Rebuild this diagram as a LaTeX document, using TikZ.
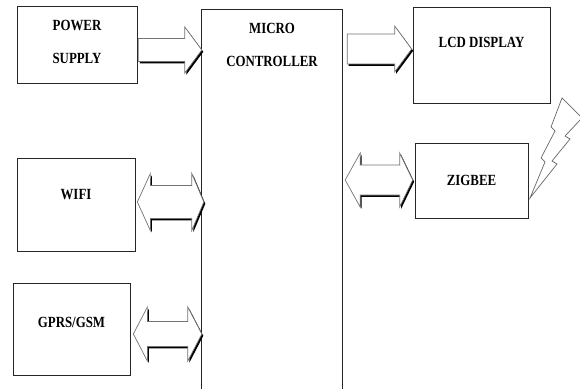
\documentclass[tikz,border=0pt]{standalone}
\usepackage{fontspec}
\newfontfamily\blockfont[FakeStretch=0.83]{Liberation Serif}
\usetikzlibrary{calc}

% one-way block arrow: from, to, y, shaft half, head half, head length
\newcommand{\onearrow}[6]{%
  \path[fatarrow] let \p1=(#1), \p2=(#2) in
    (\x1,{(#3+#4)*1pt}) -- ({\x2-#6},{(#3+#4)*1pt}) -- ({\x2-#6},{(#3+#5)*1pt})
    -- (\x2,{#3*1pt}) -- ({\x2-#6},{(#3-#5)*1pt}) -- ({\x2-#6},{(#3-#4)*1pt})
    -- (\x1,{(#3-#4)*1pt}) -- cycle;}
% two-way block arrow: from, to, y, shaft half, head half, left head, right head
\newcommand{\twoarrow}[7]{%
  \path[fatarrow] let \p1=(#1), \p2=(#2) in
    (\x1,{#3*1pt}) -- ({\x1+#6},{(#3+#5)*1pt}) -- ({\x1+#6},{(#3+#4)*1pt})
    -- ({\x2-#7},{(#3+#4)*1pt}) -- ({\x2-#7},{(#3+#5)*1pt}) -- (\x2,{#3*1pt})
    -- ({\x2-#7},{(#3-#5)*1pt}) -- ({\x2-#7},{(#3-#4)*1pt})
    -- ({\x1+#6},{(#3-#4)*1pt}) -- ({\x1+#6},{(#3-#5)*1pt}) -- cycle;}

\begin{document}
\begin{tikzpicture}[x=1pt,y=1pt,
  unit/.style={rectangle,draw=black!85,line width=0.7pt,inner sep=0pt},
  lbl/.style={font=\blockfont\bfseries\fontsize{15.5}{33}\selectfont,align=center,inner sep=0pt},
  fatarrow/.style={fill=white,draw=black!55,line width=0.7pt,
    preaction={fill=black,transform canvas={xshift=1.5pt,yshift=-1.8pt}}}]
\useasboundingbox (0,0) rectangle (580,389);

% blocks
\node[unit,minimum width=120pt,minimum height=77pt,label={[lbl,yshift=3pt]center:POWER\\SUPPLY}] (ps) at (77,344.5) {};
\node[minimum width=140pt,minimum height=379pt,inner sep=0pt,label={[lbl,yshift=155pt]center:MICRO\\CONTROLLER}] (mc) at (272,189.5) {};
\draw[black!85,line width=0.7pt] (mc.south west) -- (mc.north west) -- (mc.north east) -- (mc.south east);
\node[unit,minimum width=137pt,minimum height=96pt,label={[lbl,yshift=13pt]center:LCD DISPLAY}] (lcd) at (481.5,334) {};
\node[unit,minimum width=113pt,minimum height=75pt,lbl] (zb) at (471.5,208.5) {ZIGBEE};
\node[unit,minimum width=118pt,minimum height=93pt,label={[lbl,yshift=9.5pt]center:WIFI}] (wifi) at (76,184.5) {};
\node[unit,minimum width=117pt,minimum height=92pt,label={[lbl,yshift=7pt]center:GPRS/GSM}] (gsm) at (71.5,60) {};

% connectors
\onearrow{$(ps.east)+(1,0)$}{mc.west}{339}{11.5}{23}{17}
\onearrow{$(mc.east)+(5,0)$}{$(lcd.west)+(-1,0)$}{340}{15}{23}{17}
\twoarrow{$(mc.east)+(3,0)$}{$(zb.west)+(-2,0)$}{209}{15}{27}{15}{13}
\twoarrow{$(wifi.east)+(2,0)$}{$(mc.west)+(2,0)$}{187}{16.5}{28.5}{13}{12}
\twoarrow{$(gsm.east)+(3,0)$}{mc.west}{55}{12.5}{27}{14}{14}

% radio bolt
\draw[black!60,line width=0.7pt] (562,291) -- (551,262) -- (555,258) -- (541,231) -- (545,227)
  -- (530,191) -- (557,225) -- (552,228) -- (570,250) -- (565,253) -- (582,271) -- cycle;
\end{tikzpicture}
\end{document}
